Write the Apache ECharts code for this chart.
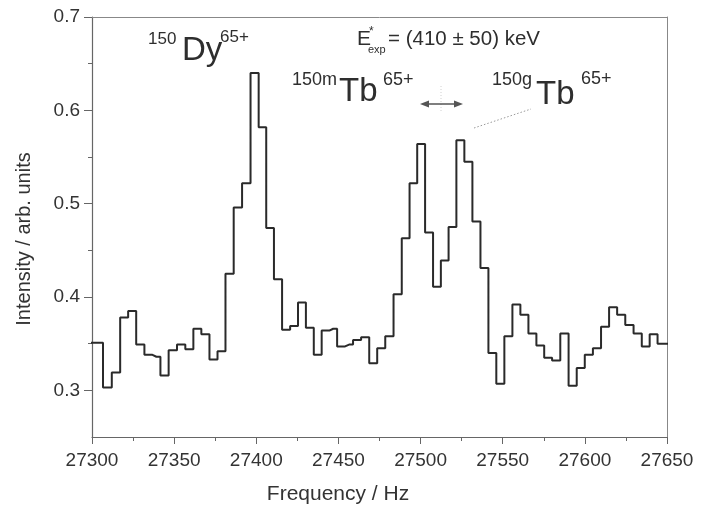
<!DOCTYPE html>
<html>
<head>
<meta charset="utf-8">
<script src="https://cdn.jsdelivr.net/npm/echarts@6/dist/echarts.min.js"></script>
<style>
html,body{margin:0;padding:0;background:#fff;}
#chart{width:711px;height:511px;}
</style>
</head>
<body>
<div id="chart"></div>
<script>
// Bin centre frequencies (Hz)
var freq = [27299.0, 27304.0, 27309.4, 27314.7, 27319.6, 27324.4, 27329.4, 27334.4, 27339.2, 27344.1,
  27349.2, 27354.3, 27359.3, 27364.1, 27369.0, 27374.0, 27378.8, 27383.7, 27388.8, 27393.9,
  27399.1, 27403.8, 27408.3, 27413.2, 27418.2, 27423.0, 27427.8, 27432.6, 27437.4, 27442.2,
  27446.8, 27451.6, 27456.5, 27461.3, 27466.3, 27471.2, 27476.0, 27481.0, 27486.1, 27491.0,
  27495.6, 27500.3, 27505.2, 27510.0, 27514.7, 27519.4, 27524.2, 27529.1, 27534.0, 27538.9,
  27543.7, 27548.5, 27553.5, 27558.3, 27563.2, 27568.1, 27572.9, 27577.6, 27582.5, 27587.6,
  27592.6, 27597.5, 27602.4, 27607.4, 27612.3, 27617.2, 27622.1, 27627.1, 27632.2, 27637.1,
  27641.8, 27646.7, 27651.7];
// Intensity (arb. units) per bin
var intensity = [0.351, 0.351, 0.303, 0.319, 0.378, 0.385, 0.349, 0.338, 0.336, 0.316,
  0.343, 0.349, 0.344, 0.366, 0.360, 0.333, 0.342, 0.425, 0.496, 0.522,
  0.640, 0.582, 0.474, 0.419, 0.365, 0.369, 0.394, 0.367, 0.338, 0.364,
  0.366, 0.347, 0.349, 0.354, 0.357, 0.329, 0.345, 0.358, 0.403, 0.463,
  0.522, 0.564, 0.469, 0.411, 0.439, 0.475, 0.568, 0.545, 0.481, 0.431,
  0.340, 0.307, 0.358, 0.392, 0.381, 0.361, 0.348, 0.335, 0.332, 0.361,
  0.305, 0.324, 0.338, 0.345, 0.368, 0.389, 0.381, 0.370, 0.361, 0.347,
  0.360, 0.350, 0.350];
var yMajorTicks = [0.3, 0.4, 0.5, 0.6, 0.7];
var yMinorTicks = [0.35, 0.45, 0.55, 0.65];
var xTitle = 'Frequency / Hz';
var yTitle = 'Intensity / arb. units';

var seriesData = freq.map(function (f, i) { return [f, intensity[i]]; });

var FONT = '"Liberation Sans", Arial, Helvetica, sans-serif';
var TXT = '#2e2e2e';
var AX = '#666';

function txt(s, x, y, size, extra) {
  var o = {
    type: 'text', z: 100,
    style: { text: s, x: x, y: y, fontFamily: FONT, fontSize: size, fill: TXT,
      textAlign: 'left', textVerticalAlign: 'middle' }
  };
  if (extra) { for (var k in extra) o.style[k] = extra[k]; }
  return o;
}

var chart = echarts.init(document.getElementById('chart'), null, {renderer: 'canvas'});
chart.setOption({
  animation: false,
  backgroundColor: '#fff',
  grid: { left: 92, right: 44, top: 17, bottom: 74, containLabel: false, outerBoundsMode: 'none' },
  xAxis: [{
    type: 'value', min: 27300, max: 27650, interval: 50,
    axisLine: { show: true, lineStyle: { color: AX, width: 1.2 } },
    axisTick: { show: true, inside: false, length: 7, lineStyle: { color: AX } },
    minorTick: { show: true, splitNumber: 2, length: 4, lineStyle: { color: AX } },
    axisLabel: { color: '#333', fontSize: 19, fontFamily: FONT, margin: 14,
      formatter: function (v) { return String(Math.round(v)); } },
    splitLine: { show: false }
  }, {
    type: 'value', min: 27300, max: 27650, position: 'top',
    axisLine: { show: true, onZero: false, lineStyle: { color: '#888', width: 1 } },
    axisTick: { show: false }, axisLabel: { show: false }, splitLine: { show: false }
  }],
  yAxis: [{
    type: 'value', min: 0.25, max: 0.7,
    axisLine: { show: true, onZero: false, lineStyle: { color: AX, width: 1.2 } },
    axisTick: { show: true, inside: false, length: 8, customValues: yMajorTicks, lineStyle: { color: AX } },
    axisLabel: { color: '#333', fontSize: 19, fontFamily: FONT, margin: 12, customValues: yMajorTicks,
      formatter: function (v) { return v.toFixed(1); } },
    splitLine: { show: false }
  }, {
    type: 'value', min: 0.25, max: 0.7, position: 'left', offset: 0,
    axisLine: { show: false },
    axisTick: { show: true, inside: false, length: 4, customValues: yMinorTicks, lineStyle: { color: AX } },
    axisLabel: { show: false }, splitLine: { show: false }
  }, {
    type: 'value', min: 0.25, max: 0.7, position: 'right',
    axisLine: { show: true, onZero: false, lineStyle: { color: '#888', width: 1 } },
    axisTick: { show: false }, axisLabel: { show: false }, splitLine: { show: false }
  }],
  series: [{
    type: 'line', step: 'middle', data: seriesData, showSymbol: false, clip: true,
    lineStyle: { color: '#2a2a2a', width: 2 }
  }],
  graphic: [
    // axis titles
    txt(xTitle, 338, 494, 21, { textAlign: 'center', fill: '#333' }),
    { type: 'text', z: 100, x: 24, y: 239, rotation: Math.PI / 2,
      style: { text: yTitle, x: 0, y: 0, fontFamily: FONT, fontSize: 20, fill: '#333',
        textAlign: 'center', textVerticalAlign: 'middle' } },
    // 150Dy65+
    txt('150', 148, 39, 17),
    txt('Dy', 182, 51, 33),
    txt('65+', 220, 37, 17),
    // 150mTb65+
    txt('150m', 292, 80, 18),
    txt('Tb', 339, 92, 33),
    txt('65+', 383, 80, 18),
    // 150gTb65+
    txt('150g', 492, 80, 18),
    txt('Tb', 536, 95, 33),
    txt('65+', 581, 79, 18),
    // E*exp = (410 ± 50) keV
    txt('E', 357, 39, 21),
    txt('*', 369, 32, 12),
    txt('exp', 368, 50, 11),
    txt('= (410 \u00b1 50) keV', 388, 39, 20.5),
    // double arrow
    { type: 'line', z: 100, shape: { x1: 426, y1: 104, x2: 458, y2: 104 },
      style: { stroke: '#555', lineWidth: 1.5 } },
    { type: 'polygon', z: 100, shape: { points: [[420, 104], [429, 100.5], [429, 107.5]] },
      style: { fill: '#555' } },
    { type: 'polygon', z: 100, shape: { points: [[463, 104], [454, 100.5], [454, 107.5]] },
      style: { fill: '#555' } },
    // faint dotted guides
    { type: 'line', z: 90, shape: { x1: 441, y1: 86, x2: 441, y2: 113 },
      style: { stroke: '#d0d0d0', lineWidth: 1, lineDash: [1, 2] } },
    { type: 'line', z: 90, shape: { x1: 474, y1: 128, x2: 531, y2: 109 },
      style: { stroke: '#9a9a9a', lineWidth: 1, lineDash: [1.5, 2] } }
  ]
});
</script>
</body>
</html>
